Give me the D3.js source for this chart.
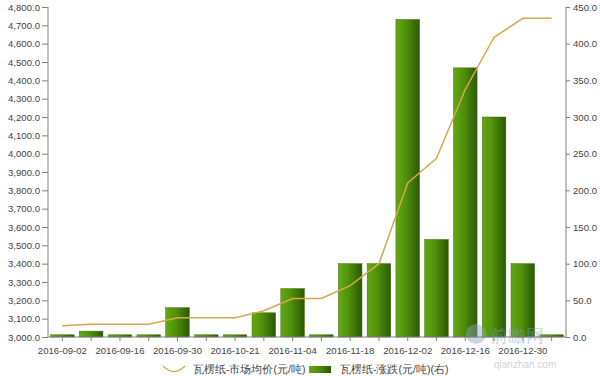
<!DOCTYPE html>
<html>
<head>
<meta charset="utf-8">
<script src="https://cdn.jsdelivr.net/npm/d3@7"></script>
<style>
  body { margin: 0; background: #fff; }
  svg text { font-family: "Liberation Sans", Arial, sans-serif; }
</style>
</head>
<body>
<script>

const w = 600;
const h = 376;

// weekly dates (every other one is labelled)
const dates = ["2016-09-02", "2016-09-09", "2016-09-16", "2016-09-23", "2016-09-30", "2016-10-14",
    "2016-10-21", "2016-10-28", "2016-11-04", "2016-11-11", "2016-11-18", "2016-11-25",
    "2016-12-02", "2016-12-09", "2016-12-16", "2016-12-23", "2016-12-30", "2017-01-06"];

// market average price, left axis
const prices = [3062, 3070, 3070, 3070, 3105, 3105, 3105, 3143, 3210, 3210, 3280, 3400,
    3840, 3975, 4350, 4635, 4738, 4738];

// change, right axis
const changes = [3, 8, 3, 3, 40, 3, 3, 33, 66, 3, 100, 100, 433, 133, 367, 300, 100, 3];

const leftTicks = [3000, 3100, 3200, 3300, 3400, 3500, 3600, 3700, 3800, 3900, 4000,
    4100, 4200, 4300, 4400, 4500, 4600, 4700, 4800];
const rightTicks = [0, 50, 100, 150, 200, 250, 300, 350, 400, 450];

const priceName = "瓦楞纸-市场均价(元/吨)";
const changeName = "瓦楞纸-涨跌(元/吨)(右)";

const plotL = 48, plotR = 566, plotT = 7, plotB = 337;
const axisColor = "#808080";
const textColor = "#444";
const lineColor = "#d4a94a";

let svg = d3.select("body")
    .append("svg")
    .attr("width", w)
    .attr("height", h)

let defs = svg.append("defs");
let grad = defs.append("linearGradient")
    .attr("id", "barGrad")
    .attr("x1", "0").attr("x2", "1").attr("y1", "0").attr("y2", "0");
grad.append("stop").attr("offset", "0%").attr("stop-color", "#65a812");
grad.append("stop").attr("offset", "45%").attr("stop-color", "#4f8f0b");
grad.append("stop").attr("offset", "100%").attr("stop-color", "#2c5706");

let x = d3.scaleBand().domain(dates).range([plotL, plotR]).padding(0);
let yL = d3.scaleLinear().domain([3000, 4800]).range([plotB, plotT]);
let yR = d3.scaleLinear().domain([0, 450]).range([plotB, plotT]);

let barW = x.bandwidth() * 0.82;

// bars
svg.append("g")
    .selectAll("rect")
    .data(changes)
    .enter()
    .append("rect")
    .attr("x", (d, i) => x(dates[i]) + (x.bandwidth() - barW) / 2)
    .attr("y", d => yR(d))
    .attr("width", barW)
    .attr("height", d => yR(0) - yR(d))
    .attr("fill", "url(#barGrad)")
    .attr("stroke", "#3f6e0a")
    .attr("stroke-width", 0.5);

// watermark
let wm = svg.append("g").attr("opacity", 0.45);
wm.append("circle").attr("cx", 476).attr("cy", 334).attr("r", 10).attr("fill", "#8aa4bd");
wm.append("text").attr("x", 490).attr("y", 342).attr("font-size", 18)
    .attr("font-family", "Noto Sans CJK SC").attr("fill", "#7d9fc4").text("前瞻网");
wm.append("text").attr("x", 494).attr("y", 368).attr("font-size", 10)
    .attr("fill", "#999").text("qianzhan.com");

// price line
let line = d3.line()
    .x((d, i) => x(dates[i]) + x.bandwidth() / 2)
    .y(d => yL(d));

svg.append("path")
    .datum(prices)
    .attr("d", line)
    .attr("fill", "none")
    .attr("stroke", lineColor)
    .attr("stroke-width", 1.5);

// left axis
let gL = svg.append("g").attr("transform", `translate(${plotL},0)`);
gL.call(d3.axisLeft(yL).tickValues(d3.range(3000, 4801, 20)).tickSize(3).tickFormat(""));
gL.call(d3.axisLeft(yL).tickValues(leftTicks).tickSize(6).tickFormat(d3.format(",.1f")));
gL.selectAll("path, line").attr("stroke", axisColor);
gL.select(".domain").attr("d", `M0,${plotT}V${plotB}`);
gL.selectAll("text").attr("x", -8).attr("fill", textColor).attr("font-size", 9.6);

// right axis
let gR = svg.append("g").attr("transform", `translate(${plotR},0)`);
gR.call(d3.axisRight(yR).tickValues(d3.range(0, 451, 10)).tickSize(2).tickFormat(""));
gR.call(d3.axisRight(yR).tickValues(rightTicks).tickSize(4).tickFormat(d3.format(".1f")));
gR.selectAll("path, line").attr("stroke", axisColor);
gR.select(".domain").attr("d", `M0,${plotT}V${plotB}`);
gR.selectAll("text").attr("x", 7).attr("fill", textColor).attr("font-size", 9.6);

// bottom axis
let gB = svg.append("g").attr("transform", `translate(0,${plotB})`);
gB.call(d3.axisBottom(x).tickSize(4).tickFormat((d, i) => i % 2 == 0 ? d : ""));
gB.selectAll("path, line").attr("stroke", axisColor);
gB.select(".domain").attr("d", `M${plotL},0H${plotR}`);
gB.selectAll("text").attr("y", 10).attr("fill", textColor).attr("font-size", 9.6);

// legend
let lg = svg.append("g");
lg.append("path")
    .attr("d", "M163,366 Q174,377 185,366")
    .attr("fill", "none")
    .attr("stroke", lineColor)
    .attr("stroke-width", 1.2);
lg.append("text")
    .attr("x", 193).attr("y", 373)
    .attr("font-family", "Noto Sans CJK SC")
    .attr("font-size", 10.5)
    .attr("fill", textColor)
    .text(priceName);
lg.append("rect")
    .attr("x", 309).attr("y", 366)
    .attr("width", 22).attr("height", 7)
    .attr("fill", "url(#barGrad)");
lg.append("text")
    .attr("x", 340).attr("y", 373)
    .attr("font-family", "Noto Sans CJK SC")
    .attr("font-size", 10.5)
    .attr("fill", textColor)
    .text(changeName);

</script>
</body>
</html>
